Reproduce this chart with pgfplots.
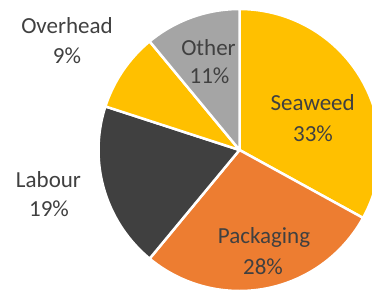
\documentclass[border=0pt]{standalone}
\usepackage{pgfplots}
\pgfplotsset{compat=1.18}
\usepackage{fontspec}
\setmainfont{Carlito}
\definecolor{cSeaweed}{HTML}{FFC000}
\definecolor{cPack}{HTML}{ED7D31}
\definecolor{cLabour}{HTML}{404040}
\definecolor{cOver}{HTML}{FFC000}
\definecolor{cOther}{HTML}{A5A5A5}
\definecolor{txt}{HTML}{404040}
\def\angStart{90}
\newcommand\slice[2]{%
  \pgfmathsetmacro\angEnd{\angStart - 3.6*#1}%
  \edef\tmp{\noexpand\addplot[fill=#2, draw=white, line width=2.5pt, line join=round, domain=\angEnd:\angStart, samples=80] ({141*cos(x)},{141*sin(x)}) -- (0,0) -- cycle;}%
  \tmp
  \global\let\angStart\angEnd
}
\begin{document}
\begin{tikzpicture}
\begin{axis}[
  scale only axis, width=372pt, height=293pt,
  xmin=-239.5, xmax=132.5, ymin=-143, ymax=150,
  hide axis, clip=true,
]
\path (rel axis cs:0,0) rectangle (rel axis cs:1,1);
\slice{33}{cSeaweed}
\slice{28}{cPack}
\slice{19}{cLabour}
\slice{9}{cOver}
\slice{11}{cOther}
\tikzset{lab/.style={anchor=base, text=txt, font=\fontsize{23}{27}\selectfont, inner sep=0pt}}
\node[lab] at (axis cs:-172.5,116.7) {Overhead};
\node[lab] at (axis cs:-172.5,86.7) {9\%};
\node[lab] at (axis cs:-31,95) {Other};
\node[lab] at (axis cs:-30,66.7) {11\%};
\node[lab] at (axis cs:73.2,39.3) {Seaweed};
\node[lab] at (axis cs:73.5,8.3) {33\%};
\node[lab] at (axis cs:24.5,-93.3) {Packaging};
\node[lab] at (axis cs:23.5,-124) {28\%};
\node[lab] at (axis cs:-191,-37.3) {Labour};
\node[lab] at (axis cs:-190.5,-66.7) {19\%};
\end{axis}
\end{tikzpicture}
\end{document}
